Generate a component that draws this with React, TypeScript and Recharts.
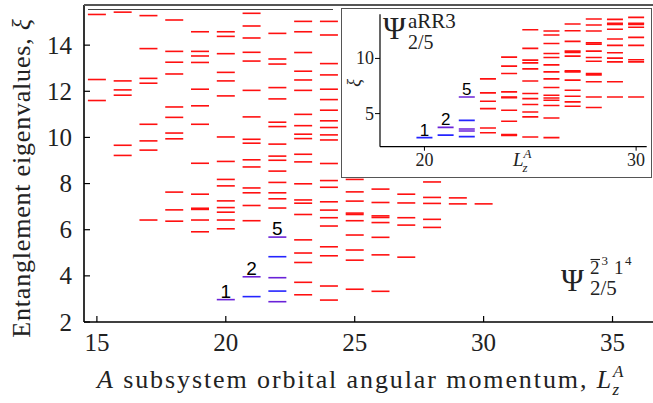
import { ScatterChart, Scatter, XAxis, YAxis } from 'recharts';

const SERIF = '"Liberation Serif", "Times New Roman", serif';
const SANS = '"Liberation Sans", Arial, sans-serif';
const RED = '#ff1010';
const BLUE = '#2424ff';
const PURPLE = '#6a22d8';

// main panel: Psi^{2bar^3 1^4}_{2/5}, entanglement levels per L_z^A column
const mainLz = [15, 16, 17, 18, 19, 20, 21, 22, 23, 24, 25, 26, 27, 28, 29, 30];
const red15 = [15.33, 12.51, 11.6];
const red16 = [15.43, 12.45, 12.06, 11.83, 9.66, 9.22];
const red17 = [15.28, 13.85, 12.56, 12.35, 10.57, 9.85, 9.45, 6.42];
const red18 = [15.09, 13.73, 13.26, 12.75, 11.32, 10.87, 10.19, 9.94, 7.63, 6.86, 6.37];
const red19 = [14.58, 13.73, 13.53, 13.25, 12.09, 11.37, 10.57, 8.88, 7.54, 6.93, 6.88, 6.42, 5.91];
const red20 = [14.58, 14.38, 13.63, 12.82, 12.45, 11.8, 10.02, 8.96, 8.18, 7.9, 7.25, 6.96, 6.76, 6.42, 6.04];
const red21 = [15.38, 14.83, 14.31, 13.69, 13.31, 12.04, 10.89, 9.92, 9.75, 9.03, 8.72, 7.81, 7.6, 7.05, 6.39];
const red22 = [14.51, 13.4, 13.18, 12.16, 11.67, 10.66, 10.47, 9.71, 9.19, 9.01, 8.54, 8.05, 7.6, 7.34, 6.94];
const red23 = [15.03, 14.58, 13.68, 12.87, 12.49, 12.04, 11.0, 10.51, 10.14, 9.95, 9.27, 8.94, 7.99, 7.29, 7.15, 6.66, 5.56, 4.99, 4.58, 3.72, 3.18];
const red24 = [15.03, 14.44, 13.2, 12.71, 12.09, 11.64, 11.18, 10.72, 10.43, 10.11, 9.89, 8.87, 8.13, 7.84, 7.21, 6.85, 6.52, 6.16, 5.26, 4.87, 3.56, 2.95];
const red25 = [8.18, 7.64, 7.24, 6.72, 6.66, 6.39, 5.77, 5.12, 4.68, 3.42];
const red26 = [7.76, 7.18, 6.6, 6.53, 6.31, 5.67, 4.91, 3.33];
const red27 = [7.54, 7.16, 6.52, 6.2, 4.81];
const red28 = [8.07, 7.4, 7.14, 6.45, 6.1];
const red29 = [7.38, 7.12];
const red30 = [7.12];
const mainRed = [red15, red16, red17, red18, red19, red20, red21, red22, red23, red24, red25, red26, red27, red28, red29, red30];

const mainCountLz = [20, 21, 22];
const mainBlue = [[], [3.1], [4.83, 3.34]];
const mainPurple = [[2.97], [3.96], [5.68, 3.92, 2.88]];
const mainCounts = [1, 2, 5];

const mainXTicks = [15, 20, 25, 30, 35];
const mainYTicks = [2, 4, 6, 8, 10, 12, 14];

// inset: Psi^{aRR3}_{2/5}
const insetLz = [23, 24, 25, 26, 27, 28, 29, 30];
const ins23 = [8.15, 6.88, 6.12, 5.45, 3.69, 3.27];
const ins24 = [10.12, 9.3, 8.64, 6.97, 6.51, 6.45, 5.3, 4.3, 3.09, 3.03];
const ins25 = [12.6, 10.91, 9.85, 9.6, 9.05, 7.96, 6.82, 6.36, 5.82, 5.15, 4.7, 2.88];
const ins26 = [12.48, 12.12, 11.36, 10.45, 10.09, 9.42, 8.78, 8.15, 7.36, 6.66, 6.42, 6.21, 5.73, 4.6, 2.82];
const ins27 = [13.12, 12.51, 11.55, 10.66, 10.54, 10.21, 8.87, 8.78, 8.03, 7.12, 6.57, 6.06, 5.67];
const ins28 = [13.57, 13.03, 12.48, 11.42, 11.3, 10.66, 10.09, 9.75, 8.64, 8.51, 7.88, 6.51, 5.55];
const ins29 = [13.54, 13.18, 13.09, 12.64, 11.76, 11.18, 10.51, 10.03, 9.69, 7.88, 6.51];
const ins30 = [13.72, 13.18, 13.09, 12.82, 11.91, 11.18, 9.88, 9.69, 6.51];
const insetRed = [ins23, ins24, ins25, ins26, ins27, ins28, ins29, ins30];

const insetCountLz = [20, 21, 22];
const insetBlue = [[2.82], [3.05], [4.39, 2.91]];
const insetPurple = [[], [3.75], [6.51, 3.6, 3.42]];
const insetCounts = [1, 2, 5];

const insetXTicks = [20, 30];
const insetYTicks = [5, 10];

type Pt = { Lz: number; xi: number; n?: number };

const toPoints = (cols: number[], levels: number[][]): Pt[] =>
  cols.flatMap((Lz, i) => levels[i].map((xi) => ({ Lz, xi })));

const countPoints = (cols: number[], a: number[][], b: number[][], counts: number[]): Pt[] =>
  cols.map((Lz, i) => ({ Lz, xi: Math.max(...a[i], ...b[i]), n: counts[i] }));

const mainRedPts = toPoints(mainLz, mainRed);
const mainBluePts = toPoints(mainCountLz, mainBlue);
const mainPurplePts = toPoints(mainCountLz, mainPurple);
const mainCountPts = countPoints(mainCountLz, mainBlue, mainPurple, mainCounts);

const insetRedPts = toPoints(insetLz, insetRed);
const insetBluePts = toPoints(insetCountLz, insetBlue);
const insetPurplePts = toPoints(insetCountLz, insetPurple);
const insetCountPts = countPoints(insetCountLz, insetBlue, insetPurple, insetCounts);

const dash = (color: string, half: number) => (p: any) =>
  <line x1={p.cx - half} x2={p.cx + half} y1={p.cy} y2={p.cy} stroke={color} strokeWidth={1.6} />;

const countLabel = (size: number) => (p: any) =>
  <text x={p.cx} y={p.cy - 2} textAnchor="middle" fontSize={size} fontFamily={SANS} fill="#000">
    {p.payload?.n ?? p.n}
  </text>;

const mainXTick = (p: any) => (
  <g>
    <line x1={p.x} x2={p.x} y1={p.y} y2={p.y - 6} stroke="#000" strokeWidth={1.2} />
    <text x={p.x} y={p.y + 29} textAnchor="middle" fontSize={25} fontFamily={SERIF} fill="#222">{p.payload.value}</text>
  </g>
);

const mainYTick = (p: any) => (
  <g>
    <line x1={p.x} x2={p.x + 6} y1={p.y} y2={p.y} stroke="#000" strokeWidth={1.2} />
    <text x={p.x - 12} y={p.y + 8.5} textAnchor="end" fontSize={25} fontFamily={SERIF} fill="#222">{p.payload.value}</text>
  </g>
);

const insetXTick = (p: any) => (
  <g>
    <line x1={p.x} x2={p.x} y1={p.y} y2={p.y + 4} stroke="#000" strokeWidth={1} />
    <text x={p.x} y={p.y + 19} textAnchor="middle" fontSize={18} fontFamily={SERIF} fill="#222">{p.payload.value}</text>
  </g>
);

const insetYTick = (p: any) => (
  <g>
    <line x1={p.x} x2={p.x - 5} y1={p.y} y2={p.y} stroke="#000" strokeWidth={1} />
    <text x={p.x - 6} y={p.y + 6} textAnchor="end" fontSize={18} fontFamily={SERIF} fill="#222">{p.payload.value}</text>
  </g>
);

const mainXLabel = () => (
  <text x={97} y={388} fontSize={26} fontFamily={SERIF} letterSpacing={1.9} fill="#222">
    <tspan fontStyle="italic">A</tspan> subsystem orbital angular momentum, <tspan fontStyle="italic">L</tspan>
    <tspan fontStyle="italic" fontSize={17} dy={-11}>A</tspan>
    <tspan fontStyle="italic" fontSize={17} dx={-13} dy={18}>z</tspan>
  </text>
);

const mainYLabel = () => (
  <text x={30} y={178} transform="rotate(-90 30 178)" textAnchor="middle" fontSize={26} fontFamily={SERIF} letterSpacing={0.8} fill="#222">
    Entanglement eigenvalues, <tspan fontStyle="italic">ξ</tspan>
  </text>
);

const insetXLabel = () => (
  <text x={172} y={157.7} fontSize={19} fontFamily={SERIF} fill="#222">
    <tspan fontStyle="italic">L</tspan>
    <tspan fontStyle="italic" fontSize={13} dy={-8}>A</tspan>
    <tspan fontStyle="italic" fontSize={13} dx={-9} dy={14}>z</tspan>
  </text>
);

const insetYLabel = () => (
  <text x={19} y={75} transform="rotate(-90 19 75)" textAnchor="middle" fontSize={18} fontFamily={SERIF} fontStyle="italic" fill="#222">ξ</text>
);

export default function App() {
  return (
    <div style={{ position: 'absolute', left: 0, top: 0, width: 653, height: 403, background: '#fff', overflow: 'hidden' }}>
      <ScatterChart width={653} height={403} margin={{ top: 5, right: 0, bottom: 0, left: 0 }}>
        <XAxis type="number" dataKey="Lz" domain={[14.5, 36.57]} ticks={mainXTicks} allowDataOverflow height={81}
          tickSize={0} tickMargin={0} tick={mainXTick} axisLine={{ stroke: '#000', strokeWidth: 1.6 }} label={mainXLabel} />
        <YAxis type="number" dataKey="xi" domain={[2, 15.74]} ticks={mainYTicks} allowDataOverflow width={84}
          tickSize={0} tickMargin={0} tick={mainYTick} axisLine={{ stroke: '#000', strokeWidth: 1.6 }} label={mainYLabel} />
        <Scatter data={mainRedPts} shape={dash(RED, 9)} isAnimationActive={false} />
        <Scatter data={mainBluePts} shape={dash(BLUE, 9)} isAnimationActive={false} />
        <Scatter data={mainPurplePts} shape={dash(PURPLE, 9)} isAnimationActive={false} />
        <Scatter data={mainCountPts} shape={countLabel(19)} isAnimationActive={false} />
      </ScatterChart>

      <div style={{ position: 'absolute', left: 84, top: 3.7, width: 569, height: 2, background: '#555' }} />
      <div style={{ position: 'absolute', left: 88, top: 9, width: 245, height: 1.2, background: '#444' }} />

      <svg width={653} height={403} style={{ position: 'absolute', left: 0, top: 0, pointerEvents: 'none' }}>
        <g fontFamily={SERIF} fill="#222">
          <text x={561} y={291} fontSize={31}>Ψ</text>
          <text x={590} y={274} fontSize={19}>2</text>
          <line x1={590.5} x2={600} y1={259.5} y2={259.5} stroke="#222" strokeWidth={1.1} />
          <text x={601.5} y={265} fontSize={13}>3</text>
          <text x={614} y={274} fontSize={19}>1</text>
          <text x={625} y={265} fontSize={13}>4</text>
          <text x={590} y={295} fontSize={21}>2/5</text>
        </g>
      </svg>

      <div style={{ position: 'absolute', left: 340.5, top: 8, width: 311, height: 170, border: '1.6px solid #555', boxSizing: 'border-box', background: '#fff' }} />
      <div style={{ position: 'absolute', left: 341, top: 8 }}>
        <ScatterChart width={311} height={170} margin={{ top: 6.3, right: 5.3, bottom: 0, left: 0 }}>
          <XAxis type="number" dataKey="Lz" domain={[17.9, 30.5]} ticks={insetXTicks} allowDataOverflow height={31.3}
            tickSize={0} tickMargin={0} tick={insetXTick} axisLine={{ stroke: '#000', strokeWidth: 1.2 }} label={insetXLabel} />
          <YAxis type="number" dataKey="xi" domain={[2, 14]} ticks={insetYTicks} allowDataOverflow width={39}
            tickSize={0} tickMargin={0} tick={insetYTick} axisLine={{ stroke: '#000', strokeWidth: 1.2 }} label={insetYLabel} />
          <Scatter data={insetRedPts} shape={dash(RED, 8)} isAnimationActive={false} />
          <Scatter data={insetBluePts} shape={dash(BLUE, 8)} isAnimationActive={false} />
          <Scatter data={insetPurplePts} shape={dash(PURPLE, 8)} isAnimationActive={false} />
          <Scatter data={insetCountPts} shape={countLabel(17)} isAnimationActive={false} />
        </ScatterChart>
        <svg width={311} height={170} style={{ position: 'absolute', left: 0, top: 0, pointerEvents: 'none' }}>
          <g fontFamily={SERIF} fill="#222">
            <text x={42} y={31} fontSize={31}>Ψ</text>
            <text x={67} y={20} fontSize={21}>aRR3</text>
            <text x={67} y={41} fontSize={20}>2/5</text>
          </g>
        </svg>
      </div>
    </div>
  );
}
